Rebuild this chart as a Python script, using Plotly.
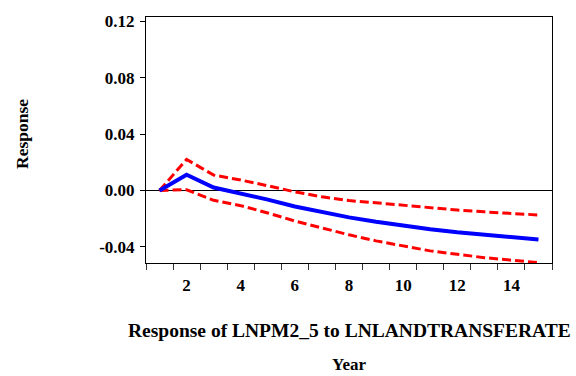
import plotly.graph_objects as go

years = list(range(1, 16))
response = [0.0, 0.0111, 0.0021, -0.0019, -0.0065, -0.0114, -0.0156, -0.0191,
            -0.0222, -0.0250, -0.0275, -0.0297, -0.0315, -0.0332, -0.0348]
upper = [0.0, 0.0220, 0.0109, 0.0074, 0.0033, -0.0010, -0.0045, -0.0072,
         -0.0088, -0.0106, -0.0125, -0.0139, -0.0152, -0.0165, -0.0174]
lower = [0.0, 0.0005, -0.0070, -0.0108, -0.0160, -0.0217, -0.0266, -0.0315,
         -0.0358, -0.0393, -0.0429, -0.0453, -0.0477, -0.0495, -0.0513]

x_tick_vals = [2, 4, 6, 8, 10, 12, 14]
x_boundaries = [i + 0.5 for i in range(0, 16)]
y_tick_vals = [-0.04, 0.0, 0.04, 0.08, 0.12]
y_tick_text = ["-0.04", "0.00", "0.04", "0.08", "0.12"]

FONT = "Liberation Serif"

fig = go.Figure()
fig.add_trace(go.Scatter(x=years, y=upper, mode="lines",
                         line=dict(color="#ff0000", width=3, dash="9px,4px"),
                         showlegend=False))
fig.add_trace(go.Scatter(x=years, y=lower, mode="lines",
                         line=dict(color="#ff0000", width=3, dash="9px,4px"),
                         showlegend=False))
fig.add_trace(go.Scatter(x=years, y=response, mode="lines",
                         line=dict(color="#0000ff", width=4),
                         showlegend=False))
# invisible trace on the boundary tick axis
fig.add_trace(go.Scatter(x=[None], y=[None], xaxis="x2", showlegend=False,
                         hoverinfo="skip"))

xr = [0.5, 15.5]
fig.update_layout(
    width=576, height=376,
    margin=dict(l=146, r=24, t=12, b=113),
    paper_bgcolor="white", plot_bgcolor="white",
    font=dict(family=FONT, color="black"),
    xaxis=dict(range=xr, tickvals=x_tick_vals, ticks="", showgrid=False,
               zeroline=False, showline=True, mirror=True, linecolor="black",
               linewidth=1, tickfont=dict(size=17, weight="bold", family=FONT),
               ticklabelstandoff=7),
    xaxis2=dict(range=xr, overlaying="x", anchor="y", side="bottom",
                tickvals=x_boundaries, ticks="outside", ticklen=6,
                tickcolor="#333", tickwidth=1, showticklabels=False,
                showgrid=False, zeroline=False, showline=False),
    yaxis=dict(range=[-0.0515, 0.1231], tickvals=y_tick_vals,
               ticktext=y_tick_text, ticks="outside", ticklen=5,
               tickcolor="black", showgrid=False, zeroline=True,
               zerolinecolor="black", zerolinewidth=1, showline=True,
               mirror=True, linecolor="black", linewidth=1,
               tickfont=dict(size=17, weight="bold", family=FONT),
               ticklabelstandoff=2),
    annotations=[
        dict(text="Response of LNPM2_5 to LNLANDTRANSFERATE", xref="paper",
             yref="paper", x=0.5, y=0, yshift=-67, xanchor="center",
             yanchor="middle", showarrow=False,
             font=dict(size=19.5, weight="bold", family=FONT)),
        dict(text="Year", xref="paper", yref="paper", x=0.5, y=0,
             yshift=-101, xanchor="center", yanchor="middle", showarrow=False,
             font=dict(size=17, weight="bold", family=FONT)),
        dict(text="Response", xref="paper", yref="paper", x=0, xshift=-124,
             y=0.5, yshift=6, textangle=-90, xanchor="center",
             yanchor="middle", showarrow=False,
             font=dict(size=17.5, weight="bold", family=FONT)),
    ],
)

fig.write_html("out.html")
